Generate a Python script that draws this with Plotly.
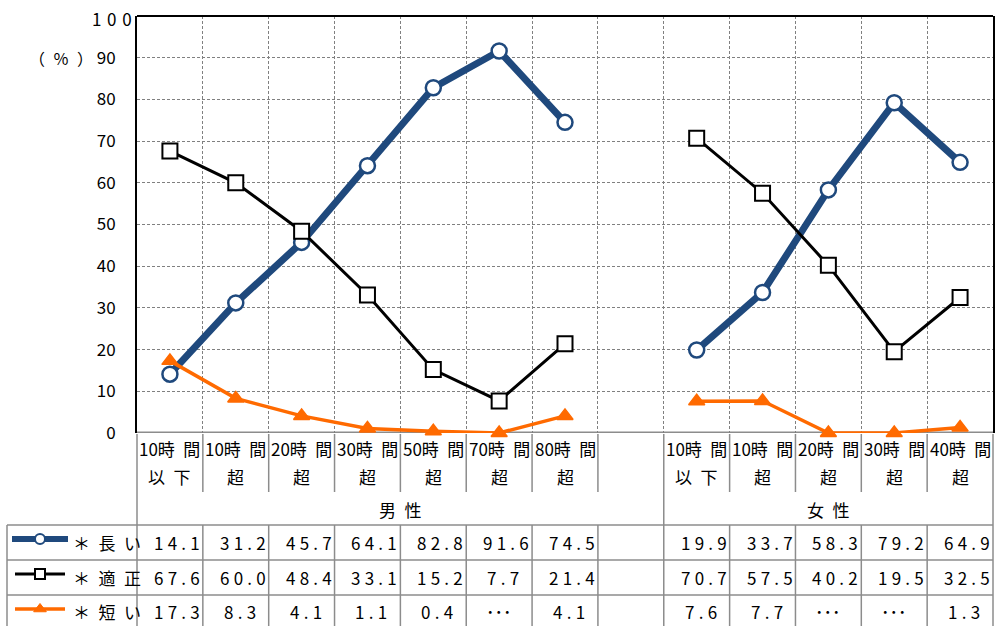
import plotly.graph_objects as go

# ---- data -------------------------------------------------------------
NA = "…"  # reported as "…" in the table; plotted at zero

cat_line1 = ["10時 間", "10時 間", "20時 間", "30時 間", "50時 間", "70時 間", "80時 間", "",
             "10時 間", "10時 間", "20時 間", "30時 間", "40時 間"]
cat_line2 = ["以 下", "超", "超", "超", "超", "超", "超", "",
             "以 下", "超", "超", "超", "超"]
groups = [("男 性", 0, 7), ("女 性", 8, 12)]

series_names = ["＊ 長 い", "＊ 適 正", "＊ 短 い"]
long_vals = [14.1, 31.2, 45.7, 64.1, 82.8, 91.6, 74.5, None, 19.9, 33.7, 58.3, 79.2, 64.9]
proper_vals = [67.6, 60.0, 48.4, 33.1, 15.2, 7.7, 21.4, None, 70.7, 57.5, 40.2, 19.5, 32.5]
short_vals = [17.3, 8.3, 4.1, 1.1, 0.4, NA, 4.1, None, 7.6, 7.7, NA, NA, 1.3]

y_ticks = [0, 10, 20, 30, 40, 50, 60, 70, 80, 90, 100]
y_ticktext = ["0", "10", "20", "30", "40", "50", "60", "70", "80", "90", ""]
y_top_label = "1 0 0"

# ---- styling ------------------------------------------------------------
W, H = 995, 626
PL, PR, PT, PB = 137, 993, 16, 433          # plot area in pixels
FONT = "Noto Sans CJK JP, Noto Sans, sans-serif"
BLUE, BLACK, ORANGE = "#1F497D", "#000000", "#FF6A00"
GRID = "#808080"
TABLE = "#8c8c8c"
FS = 17

SP = "\u2002"
def spaced(s):
    return s.replace(" ", SP)

def num_text(v):
    if v is None:
        return ""
    if v == NA:
        return "･･･"
    return "\u2005".join(f"{v:.1f}")

def plot_y(vals):
    return [None if v is None else (0 if v == NA else v) for v in vals]

def fy(p):
    """pixel row -> paper fraction (margins are zero)"""
    return (H - p) / H

def fx(p):
    return p / W

n = len(cat_line1)
x_idx = list(range(n))
XSPAN = (PR - PL) / n
def col_edge(b):
    """pixel x of a column boundary b (in category units, e.g. 0.5)"""
    return PL + (b + 0.5) * XSPAN

series = [
    (long_vals, BLUE, 7, dict(symbol="circle", size=15, color="white",
                              line=dict(color=BLUE, width=2.5))),
    (proper_vals, BLACK, 3, dict(symbol="square", size=15, color="white",
                                 line=dict(color=BLACK, width=2))),
    (short_vals, ORANGE, 3.5, dict(symbol="triangle-up", size=14, color=ORANGE,
                                   line=dict(color=ORANGE, width=1.5))),
]

fig = go.Figure()
for vals, col, lw, mk in series:
    fig.add_trace(go.Scatter(
        x=x_idx, y=plot_y(vals), mode="lines+markers",
        line=dict(color=col, width=lw), marker=mk,
        connectgaps=False, cliponaxis=False, showlegend=False,
        hoverinfo="skip"))

# legend keys inside the data table (pixel axes)
key_rows = [539, 574, 609]
key_style = [
    (BLUE, 6, dict(symbol="circle", size=10, color="white", line=dict(color=BLUE, width=2)), 12, 68),
    (BLACK, 3, dict(symbol="square", size=10, color="white", line=dict(color=BLACK, width=2)), 15, 65),
    (ORANGE, 3.5, dict(symbol="triangle-up", size=11, color=ORANGE, line=dict(color=ORANGE, width=1)), 15, 65),
]
for ky, (col, lw, mk, x0, x1) in zip(key_rows, key_style):
    fig.add_trace(go.Scatter(x=[x0, x1], y=[ky, ky], mode="lines",
                             line=dict(color=col, width=lw), xaxis="x2", yaxis="y2",
                             showlegend=False, hoverinfo="skip"))
    fig.add_trace(go.Scatter(x=[(x0 + x1) / 2], y=[ky], mode="markers", marker=mk,
                             xaxis="x2", yaxis="y2", showlegend=False, hoverinfo="skip",
                             cliponaxis=False))

shapes = []
def seg(x0, y0, x1, y1, color=TABLE, width=1.5):
    shapes.append(dict(type="line", xref="paper", yref="paper",
                       x0=fx(x0), x1=fx(x1), y0=fy(y0), y1=fy(y1),
                       line=dict(color=color, width=width), layer="above"))

# plot frame: black top, gray baseline
seg(PL, PT, PR, PT, color=BLACK, width=2)
shapes.append(dict(type="line", xref="x", yref="y", x0=-0.5, x1=n - 0.5, y0=0, y1=0,
                   line=dict(color=TABLE, width=3), layer="below"))

ROW_CAT_END = 492
ROW_TOP = [525, 560, 595]
# category separators
for k in range(n - 1):
    xb = col_edge(k + 0.5)
    seg(xb, PB + 1, xb, ROW_CAT_END)
    seg(xb, ROW_TOP[0], xb, H)
# group separator and outer edges
seg(col_edge(7.5), ROW_CAT_END, col_edge(7.5), ROW_TOP[0])
seg(PL, PB + 1, PL, H)
seg(PR, PB + 1, PR, H)
# data table rows
for y in ROW_TOP:
    seg(7, y, PR, y)
seg(7, ROW_TOP[0], 7, H)

annotations = []
def text(x, y, s, xref="x", xanchor="center", xshift=0, size=FS):
    annotations.append(dict(x=x, y=fy(y), xref=xref, yref="paper", text=s, showarrow=False,
                            xanchor=xanchor, yanchor="middle", xshift=xshift,
                            font=dict(family=FONT, size=size, color="black")))

for k in range(n):
    if cat_line1[k]:
        text(k, 449, spaced(cat_line1[k]))
        text(k, 476, spaced(cat_line2[k]))
for name, a, b in groups:
    text((a + b) / 2, 509, spaced(name))

row_centers = [542, 577, 611]
for yc, name, vals in zip(row_centers, series_names, [long_vals, proper_vals, short_vals]):
    text(fx(71), yc, spaced(name), xref="paper", xanchor="left")
    for k, v in enumerate(vals):
        s = num_text(v)
        if not s:
            continue
        shift = 0 if v == NA else (7 if v >= 10 else 4)
        text(k, yc, s, xshift=shift)

text(fx(61), 58, "（\u2002％\u2002）", xref="paper", size=16)
text(fx(112), 18, y_top_label.replace(" ", "\u2004"), xref="paper")

fig.update_layout(
    width=W, height=H, margin=dict(l=0, r=0, t=0, b=0, autoexpand=False),
    paper_bgcolor="white", plot_bgcolor="rgba(0,0,0,0)",
    font=dict(family=FONT, size=FS, color="black"),
    shapes=shapes, annotations=annotations,
    xaxis=dict(domain=[PL / W, PR / W], range=[-0.5, n - 0.5], anchor="y", automargin=False,
               tickvals=[k + 0.5 for k in range(n - 1)], showticklabels=False,
               showgrid=True, gridcolor=GRID, gridwidth=1, griddash="3px,2px",
               zeroline=False, showline=False, ticks=""),
    yaxis=dict(domain=[(H - PB) / H, (H - PT) / H], range=[0, 100], anchor="x", automargin=False,
               tickvals=y_ticks, ticktext=y_ticktext, ticks="", ticklabelstandoff=16,
               showgrid=True, gridcolor=GRID, gridwidth=1, griddash="3px,2px",
               zeroline=False, showline=True, linecolor=BLACK, linewidth=2, mirror=True,
               tickfont=dict(family=FONT, size=FS, color="black")),
    xaxis2=dict(domain=[0, 1], range=[0, W], visible=False, anchor="y2", automargin=False),
    yaxis2=dict(domain=[0, 1], range=[H, 0], visible=False, anchor="x2", automargin=False),
)

fig.write_html("out.html")
